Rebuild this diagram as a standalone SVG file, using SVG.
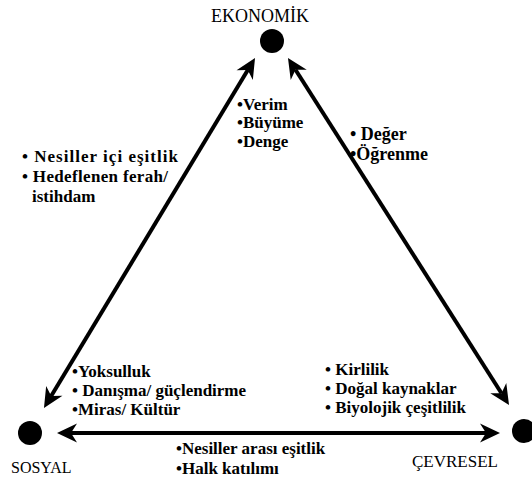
<svg xmlns="http://www.w3.org/2000/svg" width="532" height="479" viewBox="0 0 532 479">
<style>
.t{font-family:"Liberation Serif","Times New Roman",serif;font-size:17px;font-weight:bold;fill:#000}
.h{font-family:"Liberation Serif","Times New Roman",serif;font-size:17px;fill:#000}
.ln{stroke:#000;stroke-width:4;fill:none}
</style>
<defs>
<marker id="ah" markerUnits="userSpaceOnUse" markerWidth="30" markerHeight="30" viewBox="-10 -12 30 24" refX="0" refY="0" orient="auto-start-reverse" overflow="visible">
<path d="M14,0 L-6,-9.5 L0,0 L-6,9.5 Z" fill="#000"/>
</marker>
</defs>
<rect width="532" height="479" fill="#fff"/>
<g id="connectors">
<line class="ln" x1="247.8" y1="70" x2="51.2" y2="396" marker-start="url(#ah)" marker-end="url(#ah)"/>
<line class="ln" x1="295.5" y1="69.8" x2="501.5" y2="393.2" marker-start="url(#ah)" marker-end="url(#ah)"/>
<line class="ln" x1="71" y1="433" x2="486" y2="433" marker-start="url(#ah)" marker-end="url(#ah)"/>
</g>
<g id="ekonomik">
<circle cx="272" cy="41" r="12" fill="#000"/>
<text class="h" x="260" y="22" text-anchor="middle" style="font-size:18px">EKONOMİK</text>
</g>
<g id="sosyal">
<circle cx="30" cy="433" r="12" fill="#000"/>
<text class="h" x="11" y="473" style="font-size:16px">SOSYAL</text>
</g>
<g id="cevresel">
<circle cx="524" cy="431" r="12" fill="#000"/>
<text class="h" x="412" y="467">ÇEVRESEL</text>
</g>
<g id="labels">
<text class="t" x="237" y="110">•Verim</text>
<text class="t" x="237" y="128">•Büyüme</text>
<text class="t" x="237" y="147">•Denge</text>
<text class="t" x="22" y="162" textLength="156" lengthAdjust="spacing">• Nesiller içi eşitlik</text>
<text class="t" x="22" y="182" textLength="146" lengthAdjust="spacing">• Hedeflenen ferah/</text>
<text class="t" x="32" y="202">istihdam</text>
<text class="t" x="350" y="140" style="font-size:18px">• Değer</text>
<text class="t" x="350" y="160" style="font-size:18px">•Öğrenme</text>
<text class="t" x="72" y="377">•Yoksulluk</text>
<text class="t" x="72" y="396">• Danışma/ güçlendirme</text>
<text class="t" x="72" y="415">•Miras/ Kültür</text>
<text class="t" x="325" y="375">• Kirlilik</text>
<text class="t" x="325" y="394">• Doğal kaynaklar</text>
<text class="t" x="325" y="413">• Biyolojik çeşitlilik</text>
<text class="t" x="176" y="454">•Nesiller arası eşitlik</text>
<text class="t" x="176" y="474">•Halk katılımı</text>
</g>
</svg>
